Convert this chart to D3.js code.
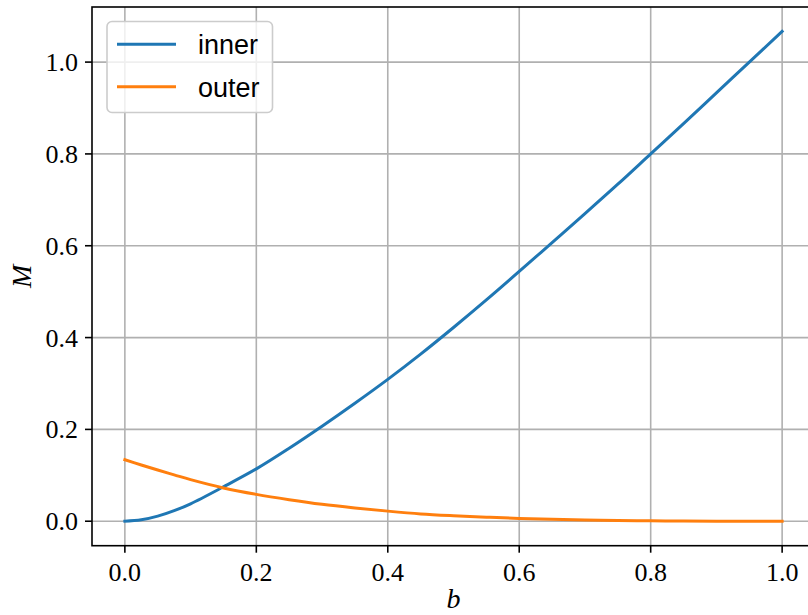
<!DOCTYPE html>
<html lang="en">
  <head>
    <meta charset="UTF-8" />
    <script src="https://d3js.org/d3.v7.min.js"></script>
    <title>M vs b</title>
    <style>
      body { margin: 0; background: #fff; }
      svg { display: block; overflow: hidden; }
    </style>
  </head>
  <body>
    <script>
      // values
      const bValues = [0, 0.025, 0.05, 0.075, 0.1, 0.15, 0.2, 0.25, 0.3, 0.35, 0.4, 0.45, 0.5,
        0.55, 0.6, 0.65, 0.7, 0.75, 0.8, 0.85, 0.9, 0.95, 1.0];
      const innerValues = [0, 0.003, 0.011, 0.023, 0.038, 0.075, 0.114, 0.159, 0.207, 0.257, 0.309,
        0.364, 0.422, 0.482, 0.544, 0.607, 0.67, 0.734, 0.8, 0.866, 0.933, 1.0, 1.067];
      const outerValues = [0.134, 0.1225, 0.1115, 0.101, 0.0905, 0.0725, 0.0585, 0.047, 0.037, 0.029, 0.022,
        0.016, 0.012, 0.0088, 0.0062, 0.0042, 0.0027, 0.0016, 0.0009, 0.0004, 0.0001, 0, 0];
      const xTicks = [0.0, 0.2, 0.4, 0.6, 0.8, 1.0];
      const yTicks = [0.0, 0.2, 0.4, 0.6, 0.8, 1.0];
      const seriesNames = ["inner", "outer"];
      const seriesColors = ["#1f77b4", "#ff7f0e"];

      const W = 808, H = 615;
      const pL = 92, pR = 815, pT = 7, pB = 545.7;

      let svg = d3.select("body").append("svg")
        .attr("width", W).attr("height", H);

      let x = d3.scaleLinear().domain([-0.05, 1.05]).range([pL, pR]);
      let y = d3.scaleLinear().domain([-0.0533, 1.12]).range([pB, pT]);

      // grid
      let grid = svg.append("g");
      grid.selectAll("line.gx").data(xTicks).enter().append("line")
        .attr("x1", d => x(d)).attr("x2", d => x(d))
        .attr("y1", pT).attr("y2", pB)
        .attr("stroke", "#b0b0b0").attr("stroke-width", 1.6);
      grid.selectAll("line.gy").data(yTicks).enter().append("line")
        .attr("x1", pL).attr("x2", pR)
        .attr("y1", d => y(d)).attr("y2", d => y(d))
        .attr("stroke", "#b0b0b0").attr("stroke-width", 1.6);

      // curves
      let series = [innerValues, outerValues];
      let line = d3.line()
        .x((d, i) => x(bValues[i]))
        .y(d => y(d))
        .curve(d3.curveCatmullRom.alpha(0.5));
      series.forEach((vals, k) => {
        svg.append("path")
          .attr("d", line(vals))
          .attr("fill", "none")
          .attr("stroke", seriesColors[k])
          .attr("stroke-width", 3)
          .attr("stroke-linecap", "square");
      });

      // spines
      svg.append("rect")
        .attr("x", pL).attr("y", pT)
        .attr("width", pR - pL).attr("height", pB - pT)
        .attr("fill", "none").attr("stroke", "#000").attr("stroke-width", 1.6);

      const fmt = d3.format(".1f");
      const serif = "'Liberation Serif', 'DejaVu Serif', serif";

      // x axis
      let xa = svg.append("g");
      xa.selectAll("line").data(xTicks).enter().append("line")
        .attr("x1", d => x(d)).attr("x2", d => x(d))
        .attr("y1", pB).attr("y2", pB + 7)
        .attr("stroke", "#000").attr("stroke-width", 1.6);
      xa.selectAll("text").data(xTicks).enter().append("text")
        .attr("x", d => x(d)).attr("y", pB + 35)
        .attr("text-anchor", "middle")
        .style("font-family", serif).style("font-size", "26px")
        .text(d => fmt(d));

      // y axis
      let ya = svg.append("g");
      ya.selectAll("line").data(yTicks).enter().append("line")
        .attr("x1", pL - 7).attr("x2", pL)
        .attr("y1", d => y(d)).attr("y2", d => y(d))
        .attr("stroke", "#000").attr("stroke-width", 1.6);
      ya.selectAll("text").data(yTicks).enter().append("text")
        .attr("x", pL - 14).attr("y", d => y(d) + 9)
        .attr("text-anchor", "end")
        .style("font-family", serif).style("font-size", "26px")
        .text(d => fmt(d));

      // axis labels
      svg.append("text")
        .attr("x", (pL + pR) / 2).attr("y", 608)
        .attr("text-anchor", "middle")
        .style("font-family", serif).style("font-style", "italic").style("font-size", "28px")
        .text("b");
      svg.append("text")
        .attr("transform", "translate(31," + (pB + pT) / 2 + ") rotate(-90)")
        .attr("text-anchor", "middle")
        .style("font-family", serif).style("font-style", "italic").style("font-size", "28px")
        .text("M");

      // legend
      let lg = svg.append("g");
      lg.append("rect")
        .attr("x", 107).attr("y", 21.5)
        .attr("width", 165.5).attr("height", 91)
        .attr("rx", 5).attr("ry", 5)
        .attr("fill", "#fff").attr("fill-opacity", 0.8)
        .attr("stroke", "#cccccc").attr("stroke-width", 1.6);
      seriesNames.forEach((name, k) => {
        let cy = 44.3 + k * 42.4;
        lg.append("line")
          .attr("x1", 117).attr("x2", 176)
          .attr("y1", cy).attr("y2", cy)
          .attr("stroke", seriesColors[k]).attr("stroke-width", 3);
        lg.append("text")
          .attr("x", 198).attr("y", cy + 10)
          .style("font-family", "'Liberation Sans', Arial, sans-serif")
          .style("font-size", "27px")
          .text(name);
      });
    </script>
  </body>
</html>
